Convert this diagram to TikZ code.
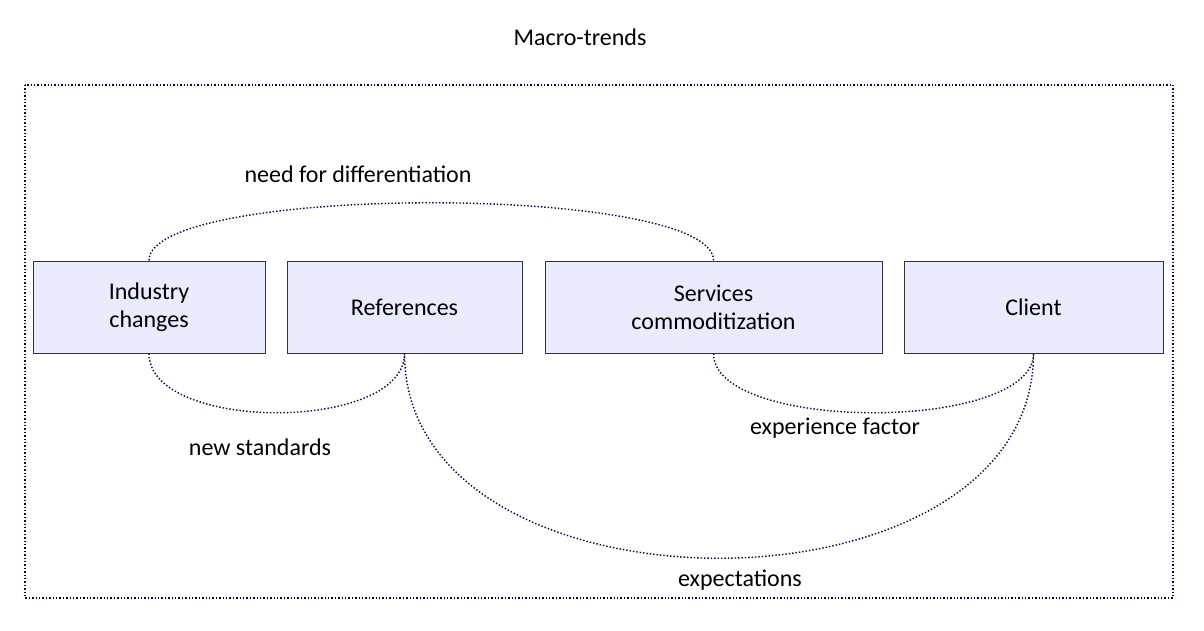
\documentclass[tikz,border=0pt]{standalone}
\usepackage{fontspec}
\setmainfont{Carlito}
\begin{document}
\begin{tikzpicture}[x=1pt,y=-1pt,
 box/.style={draw=black!80,fill=blue!8!white,line width=1pt,minimum height=92pt,font=\fontsize{24}{28}\selectfont,align=center,inner sep=0},
 lbl/.style={font=\fontsize{24}{28}\selectfont},
 dot/.style={draw=blue!30!black,dotted,line width=1.4pt}]
\useasboundingbox (0,0) rectangle (1204,630);
\node[lbl] (title) at (580,37) {Macro-trends};
\draw[dot] (25,85) rectangle (1173,598);
\node[box,minimum width=232pt] (ind) at (149,307) {Industry\\changes};
\node[box,minimum width=235pt] (ref) at (404.5,307) {References};
\node[box,minimum width=337pt] (ser) at (713.5,307) {Services\\commoditization};
\node[box,minimum width=259pt] (cli) at (1033.5,307) {Client};
\draw[dot] (ind.north) .. controls +(0,-77) and +(0,-77) .. (ser.north);
\draw[dot] (ind.south) .. controls +(0,79) and +(0,79) .. (ref.south);
\draw[dot] (ser.south) .. controls +(0,79) and +(0,79) .. (cli.south);
\draw[dot] (ref.south) .. controls +(0,273) and +(0,273) .. (cli.south);
\node[lbl] (l1) at (358,174) {need for differentiation};
\node[lbl] (l2) at (260,447) {new standards};
\node[lbl] (l3) at (835,428) {experience factor};
\node[lbl] (l4) at (740,580) {expectations};
\end{tikzpicture}
\end{document}
